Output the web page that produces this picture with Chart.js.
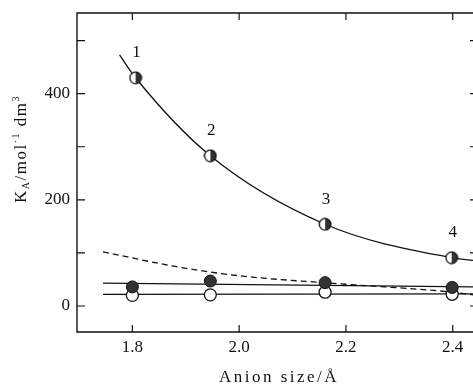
<!DOCTYPE html>
<html>
<head>
<meta charset="utf-8">
<script src="https://cdn.jsdelivr.net/npm/chart.js"></script>
<style>
  html, body { margin: 0; padding: 0; background: #fff; }
  canvas { display: block; }
</style>
</head>
<body>
<canvas id="chart" width="473" height="384"></canvas>
<script>
/* === Données === */
const anionSize = [1.80, 1.946, 2.161, 2.399];   // Å
const halfX     = [1.806, 1.946, 2.161, 2.398];
const kHalf     = [430, 283, 154, 91];
const kFilled   = [36, 47, 44, 35];
const kOpen     = [20, 21, 26, 22];
const pointLabels = ["1", "2", "3", "4"];

// courbe ajustée (trait plein) passant par les points à demi pleins
const curveX = [1.776, 1.806, 1.946, 2.161, 2.398, 2.438];
const curveY = [473, 430, 283, 154, 91, 86];
// courbe en tirets
const dashX = [1.745, 1.883, 2.0, 2.2, 2.4, 2.438];
const dashY = [102, 74, 57, 41, 26, 21];
// droites horizontales
const filledLineX = [1.745, 2.438];
const filledLineY = [43, 36];
const openLineX = [1.745, 2.438];
const openLineY = [22, 23];

const xTicks = [1.8, 2.0, 2.2, 2.4];
const yTicks = [0, 100, 200, 300, 400, 500];
const yLabelled = [0, 200, 400];

const FONT = "'Liberation Serif', 'DejaVu Serif', serif";
const INK = "#111";

const pts = (xs, ys) => xs.map((x, i) => ({ x: x, y: ys[i] }));

// marqueur à moitié rempli (moitié droite sombre)
function halfMarker() {
  const c = document.createElement("canvas");
  c.width = 14; c.height = 14;
  const g = c.getContext("2d");
  g.beginPath(); g.arc(7, 7, 5.8, 0, Math.PI * 2);
  g.fillStyle = "#fff"; g.fill();
  g.beginPath(); g.arc(7, 7, 5.8, -Math.PI / 2, Math.PI / 2);
  g.closePath(); g.fillStyle = "#333"; g.fill();
  g.beginPath(); g.arc(7, 7, 5.8, 0, Math.PI * 2);
  g.lineWidth = 1.3; g.strokeStyle = INK; g.stroke();
  return c;
}

// pas de marge automatique autour de la zone de tracé
const noPad = s => { s.paddingLeft = 0; s.paddingRight = 0; s.paddingTop = 0; s.paddingBottom = 0; };

/* === Cadre, graduations internes et textes === */
const frame = {
  id: "frame",
  afterDraw(chart) {
    const { ctx, chartArea: a, scales: { x, y } } = chart;
    ctx.save();
    ctx.strokeStyle = INK;
    ctx.lineWidth = 1.4;
    ctx.beginPath();
    ctx.moveTo(a.right + 2, a.top); ctx.lineTo(a.left, a.top);
    ctx.lineTo(a.left, a.bottom); ctx.lineTo(a.right + 2, a.bottom);
    ctx.stroke();

    ctx.lineWidth = 1.2;
    ctx.beginPath();
    xTicks.forEach(v => {
      const px = x.getPixelForValue(v);
      ctx.moveTo(px, a.top); ctx.lineTo(px, a.top + 7);
      ctx.moveTo(px, a.bottom); ctx.lineTo(px, a.bottom - 7);
    });
    yTicks.forEach(v => {
      const py = y.getPixelForValue(v);
      ctx.moveTo(a.left, py); ctx.lineTo(a.left + 8, py);
      ctx.moveTo(a.right, py); ctx.lineTo(a.right - 3, py);
    });
    ctx.stroke();

    // numéros des points
    ctx.fillStyle = INK;
    ctx.font = "17px " + FONT;
    ctx.textAlign = "center";
    ctx.textBaseline = "middle";
    pointLabels.forEach((t, i) => {
      ctx.fillText(t, x.getPixelForValue(halfX[i]) + 1, y.getPixelForValue(kHalf[i]) - 25);
    });

    // titre de l'axe x
    ctx.letterSpacing = "2.5px";
    ctx.textBaseline = "alphabetic";
    ctx.fillText("Anion size/Å", (a.left + a.right) / 2 + 4, 382);

    // titre de l'axe y : K_A/mol^-1 dm^3
    const parts = [
      ["K", 17, 0], ["A", 10, 3], ["/mol", 17, 0], ["·1", 10, -7],
      [" dm", 17, 0], ["3", 10, -7]
    ];
    ctx.letterSpacing = "1.5px";
    let total = 0;
    parts.forEach(p => { ctx.font = p[1] + "px " + FONT; total += ctx.measureText(p[0]).width; });
    ctx.translate(26, 149);
    ctx.rotate(-Math.PI / 2);
    ctx.textAlign = "left";
    let cx = -total / 2;
    parts.forEach(p => {
      ctx.font = p[1] + "px " + FONT;
      ctx.fillText(p[0], cx, p[2]);
      cx += ctx.measureText(p[0]).width;
    });
    ctx.restore();
  }
};

const line = (data, extra) => Object.assign({
  data: data, showLine: true, pointRadius: 0, pointHoverRadius: 0,
  borderColor: INK, borderWidth: 1.3, fill: false
}, extra);

new Chart(document.getElementById("chart"), {
  type: "scatter",
  data: {
    datasets: [
      { data: pts(halfX, kHalf), pointStyle: halfMarker(), pointRadius: 7 },
      { data: pts(anionSize, kFilled), pointStyle: "circle", pointRadius: 6,
        backgroundColor: "#333", borderColor: INK, borderWidth: 1 },
      { data: pts(anionSize, kOpen), pointStyle: "circle", pointRadius: 6,
        backgroundColor: "#fff", borderColor: INK, borderWidth: 1.3 },
      line(pts(curveX, curveY), { cubicInterpolationMode: "monotone" }),
      line(pts(dashX, dashY), { cubicInterpolationMode: "monotone", borderDash: [6, 4] }),
      line(pts(filledLineX, filledLineY)),
      line(pts(openLineX, openLineY))
    ]
  },
  options: {
    responsive: false,
    animation: false,
    devicePixelRatio: 1,
    layout: { autoPadding: false, padding: { top: 13, right: 0, left: 0, bottom: 0 } },
    plugins: { legend: { display: false }, tooltip: { enabled: false } },
    scales: {
      x: {
        type: "linear", position: "bottom",
        min: 1.6963, max: 2.438,
        grid: { display: false, drawTicks: false }, border: { display: false },
        afterBuildTicks: s => { s.ticks = xTicks.map(v => ({ value: v })); },
        afterFit: s => { s.height = 52; noPad(s); },
        ticks: {
          padding: 5, color: INK, maxRotation: 0,
          font: { family: FONT, size: 17 },
          callback: v => v.toFixed(1)
        }
      },
      y: {
        type: "linear",
        min: -49, max: 552,
        grid: { display: false, drawTicks: false }, border: { display: false },
        afterBuildTicks: s => { s.ticks = yTicks.map(v => ({ value: v })); },
        afterFit: s => { s.width = 77; noPad(s); },
        ticks: {
          padding: 7, color: INK,
          font: { family: FONT, size: 17 },
          callback: v => (yLabelled.includes(v) ? String(v) : "")
        }
      }
    }
  },
  plugins: [frame]
});
</script>
</body>
</html>
